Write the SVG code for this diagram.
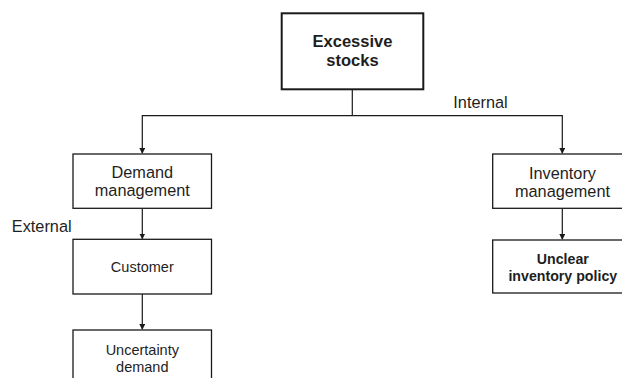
<svg xmlns="http://www.w3.org/2000/svg" width="622" height="378" viewBox="0 0 622 378">
<style>
text{font-family:"Liberation Sans",Arial,sans-serif;fill:#1e1e1e;text-anchor:middle}
.box{fill:#fff;stroke:#1a1a1a;stroke-width:1.3}
.n{font-size:16.3px}
.s{font-size:14.5px}
.b{font-weight:bold}
.c line,.c path{stroke:#1a1a1a;stroke-width:1.2;fill:none}
</style>
<defs>
<marker id="ah" markerWidth="6" markerHeight="6" refX="5" refY="3" orient="auto" markerUnits="userSpaceOnUse">
<path d="M0,0 L6,3 L0,6 z" fill="#1a1a1a"/>
</marker>
</defs>
<rect width="622" height="378" fill="#fff"/>
<g class="c" id="connectors">
<line x1="352.3" y1="89" x2="352.3" y2="115.7"/>
<path d="M352.3,115.7 H142.3 V153" marker-end="url(#ah)"/>
<path d="M352.3,115.7 H562.3 V153" marker-end="url(#ah)"/>
<line x1="142.3" y1="208.3" x2="142.3" y2="238.5" marker-end="url(#ah)"/>
<line x1="142.3" y1="294" x2="142.3" y2="329" marker-end="url(#ah)"/>
<line x1="562.3" y1="208.3" x2="562.3" y2="239" marker-end="url(#ah)"/>
</g>
<g id="excessive">
<rect class="box" x="281.7" y="13.3" width="141.6" height="76" style="stroke-width:2"/>
<text class="b" x="352.5" y="46.7" style="font-size:16.5px">Excessive</text>
<text class="b" x="352.5" y="66" style="font-size:16.5px">stocks</text>
</g>
<g id="demand">
<rect class="box" x="73" y="154" width="138.5" height="54.3"/>
<text class="n" x="142.3" y="178.3">Demand</text>
<text class="n" x="142.3" y="196.3">management</text>
</g>
<g id="customer">
<rect class="box" x="73" y="239.3" width="138.5" height="54.7"/>
<text class="s" x="142.3" y="271.7">Customer</text>
</g>
<g id="uncertainty">
<rect class="box" x="73" y="330" width="138.5" height="60"/>
<text class="s" x="142.3" y="355">Uncertainty</text>
<text class="s" x="142.3" y="371.5">demand</text>
</g>
<g id="inventory">
<rect class="box" x="492.7" y="154" width="140" height="54.3"/>
<text class="n" x="562.5" y="179.3">Inventory</text>
<text class="n" x="562.5" y="197.3">management</text>
</g>
<g id="unclear">
<rect class="box" x="492.7" y="240" width="140" height="53"/>
<text class="b" x="562.8" y="264" style="font-size:14.2px">Unclear</text>
<text class="b" x="562.8" y="280.7" style="font-size:14.2px">inventory policy</text>
</g>
<text class="n" x="480.5" y="107.5">Internal</text>
<text class="n" x="41.7" y="231.7">External</text>
</svg>
